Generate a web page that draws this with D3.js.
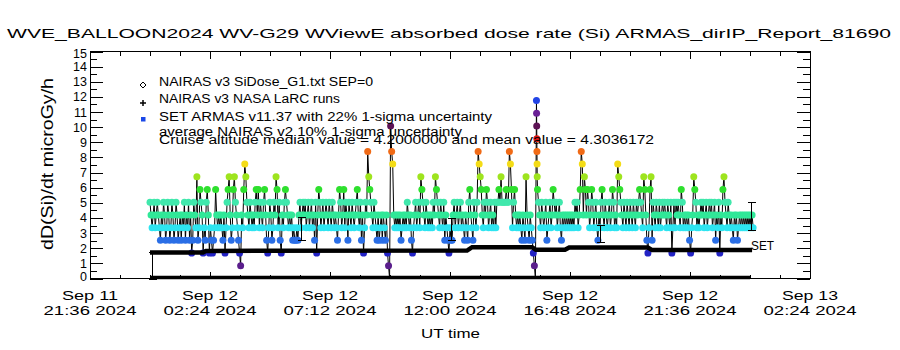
<!DOCTYPE html>
<html><head><meta charset="utf-8">
<script src="https://cdn.jsdelivr.net/npm/d3@7"></script>
<style>
body{margin:0;background:#fff}
svg{display:block}
text{font-family:"Liberation Sans",Arial,sans-serif;fill:#000}
</style>
</head><body>
<svg id="chart" width="900" height="350"></svg>
<script>
// ---------------- data ----------------
const titleText = "WVE_BALLOON2024 WV-G29 WViewE absorbed dose rate (Si) ARMAS_dirIP_Report_81690";
const yTitleText = "dD(Si)/dt microGy/h";
const xTitleText = "UT time";
const xTickTimes = ["2024-09-11T21:36:00Z","2024-09-12T02:24:00Z","2024-09-12T07:12:00Z","2024-09-12T12:00:00Z","2024-09-12T16:48:00Z","2024-09-12T21:36:00Z","2024-09-13T02:24:00Z"];
const xTickLine1 = ["Sep 11","Sep 12","Sep 12","Sep 12","Sep 12","Sep 12","Sep 13"];
const xTickLine2 = ["21:36 2024","02:24 2024","07:12 2024","12:00 2024","16:48 2024","21:36 2024","02:24 2024"];
const yTickValues = [0,1,2,3,4,5,6,7,8,9,10,11,12,13,14,15];
const legendLabels = ["NAIRAS v3 SiDose_G1.txt SEP=0","NAIRAS v3 NASA LaRC runs","SET ARMAS v11.37 with 22% 1-sigma uncertainty","average NAIRAS v2 10% 1-sigma uncertainty"];
const cruiseText = "Cruise altitude median value = 4.2000000 and mean value = 4.3036172";

// ARMAS SET dose rate, sampled every 2.5 minutes from 2024-09-12 00:00 UT
const armasStart = "2024-09-12T00:00:00Z";
const armasStepMinutes = 2.5;
const armasValues = [
5.04,4.2,3.36,4.2,5.04,3.36,4.2,5.04,4.2,3.36,
2.52,4.2,3.36,5.04,4.2,2.52,3.36,5.04,4.2,2.52,
3.36,5.04,4.2,2.52,3.36,5.04,4.2,2.52,3.36,4.2,
2.52,4.2,3.36,5.04,2.52,4.2,3.36,5.04,2.52,4.2,
1.68,2.52,5.04,4.2,3.36,6.72,2.52,3.36,5.88,5.04,
4.2,1.68,3.36,2.52,5.04,5.88,4.2,1.68,3.36,2.52,
1.68,2.52,3.36,5.88,4.2,3.36,4.2,3.36,4.2,3.36,
2.52,4.2,1.68,3.36,5.04,5.88,6.72,4.2,2.52,3.36,
5.88,6.72,5.04,4.2,3.36,2.52,1.68,0.84,4.2,3.36,
5.88,7.56,6.72,5.04,4.2,3.36,5.04,4.2,3.36,4.2,
3.36,5.04,5.88,4.2,5.88,3.36,5.04,4.2,3.36,5.04,
5.88,4.2,2.52,1.68,3.36,5.04,4.2,2.52,3.36,5.04,
4.2,6.72,5.88,3.36,5.04,2.52,1.68,4.2,3.36,5.04,
5.88,5.04,4.2,3.36,4.2,3.36,4.2,2.52,3.36,2.52,
2.52,3.36,2.52,4.2,5.04,3.36,4.2,5.04,4.2,5.04,
3.36,4.2,5.04,3.36,4.2,5.04,3.36,4.2,2.52,5.04,
1.68,4.2,5.88,5.04,3.36,4.2,5.04,3.36,4.2,5.04,
4.2,3.36,5.04,4.2,3.36,5.04,4.2,3.36,4.2,3.36,
2.52,4.2,5.88,5.04,3.36,4.2,5.88,3.36,5.04,4.2,
2.52,5.04,4.2,3.36,5.04,4.2,3.36,4.2,5.04,5.88,
4.2,3.36,5.04,2.52,4.2,1.68,3.36,5.04,4.2,8.4,
6.72,5.88,5.04,4.2,3.36,5.04,4.2,3.36,2.52,4.2,
2.52,3.36,4.2,2.52,4.2,3.36,2.52,4.2,1.68,0.84,
0,10.08,8.4,7.56,4.2,3.36,4.2,3.36,4.2,3.36,
4.2,2.52,3.36,4.2,3.36,4.2,3.36,5.04,4.2,3.36,
4.2,2.52,1.68,3.36,4.2,5.04,3.36,4.2,5.04,3.36,
6.72,5.88,5.04,4.2,3.36,5.04,4.2,3.36,4.2,3.36,
4.2,3.36,5.04,4.2,6.72,5.88,5.04,4.2,3.36,5.04,
4.2,3.36,5.04,2.52,4.2,3.36,2.52,1.68,3.36,2.52,
2.52,4.2,5.04,3.36,4.2,5.04,3.36,4.2,5.04,3.36,
4.2,3.36,2.52,4.2,3.36,2.52,5.04,5.88,4.2,3.36,
2.52,5.04,4.2,3.36,5.04,8.4,7.56,6.72,5.88,4.2,
3.36,5.04,4.2,5.88,5.04,3.36,4.2,5.04,3.36,4.2,
3.36,5.04,3.36,5.04,5.04,5.88,5.04,6.72,5.04,5.04,
5.04,5.04,5.88,5.04,5.04,8.4,7.56,5.88,3.36,5.04,
5.88,4.2,3.36,4.2,3.36,4.2,3.36,2.52,4.2,3.36,
2.52,6.72,4.2,3.36,2.52,4.2,3.36,2.52,1.68,0.84,
0,11.76,5.88,5.04,4.2,3.36,5.04,4.2,3.36,4.2,
5.04,2.52,3.36,4.2,5.04,3.36,4.2,5.88,5.04,4.2,
5.04,3.36,4.2,5.04,3.36,2.52,4.2,3.36,4.2,3.36,
4.2,3.36,4.2,3.36,4.2,3.36,4.2,3.36,5.04,4.2,
5.04,3.36,4.2,5.88,8.4,7.56,4.2,6.72,5.88,4.2,
5.88,5.04,3.36,4.2,5.88,5.04,3.36,4.2,5.04,3.36,
2.52,4.2,3.36,5.04,5.88,4.2,3.36,5.04,4.2,3.36,
4.2,5.04,3.36,4.2,5.88,5.04,3.36,4.2,3.36,7.56,
6.72,5.88,5.04,4.2,3.36,5.04,4.2,3.36,5.04,4.2,
3.36,5.04,4.2,3.36,5.04,4.2,3.36,5.04,4.2,5.04,
5.88,5.04,4.2,3.36,6.72,5.88,4.2,2.52,1.68,3.36,
5.88,6.72,2.52,5.04,4.2,3.36,5.04,4.2,3.36,5.04,
3.36,4.2,5.04,4.2,5.04,4.2,3.36,5.04,4.2,3.36,
5.04,1.68,3.36,5.04,3.36,5.04,4.2,5.04,4.2,3.36,
5.88,5.04,3.36,4.2,3.36,4.2,3.36,4.2,2.52,1.68,
3.36,4.2,6.72,5.88,5.04,3.36,4.2,3.36,4.2,5.04,
4.2,5.04,3.36,4.2,5.04,3.36,4.2,5.04,4.2,5.04,
3.36,4.2,5.04,2.52,4.2,3.36,5.04,1.68,4.2,3.36,
5.88,6.72,5.04,4.2,3.36,5.04,4.2,3.36,4.2,3.36,
2.52,4.2,3.36,4.2,2.52,3.36,4.2,3.36,4.2,3.36,
4.2,3.36,4.2,3.36,4.2,3.36,4.2,3.36,4.2,3.36
];
// extra burst samples during the big spike (minutes after armasStart)
const spikeMinutes = [927.8,928.1,928.4,928.7,929.0,929.3];
const spikeValues = [10.92,10.08,9.24,8.4,7.56,6.72];

// NAIRAS v3 NASA LaRC runs
const nairasTimes = ["2024-09-12T00:00:00Z","2024-09-12T02:07:00Z","2024-09-12T02:14:00Z","2024-09-12T12:41:00Z","2024-09-12T12:53:00Z","2024-09-12T15:17:00Z","2024-09-12T15:26:00Z","2024-09-12T16:36:00Z","2024-09-12T16:46:00Z","2024-09-12T19:55:00Z","2024-09-12T20:05:00Z","2024-09-13T00:05:00Z"];
const nairasValues = [1.72,1.72,1.82,1.85,2.07,2.07,1.9,1.9,2.05,2.05,1.88,1.88];

// NAIRAS v3 SiDose_G1 (SEP=0)
const g1Times = ["2024-09-12T00:00:00Z","2024-09-13T00:00:00Z"];
const g1Values = [0,0];

// uncertainty bars
const errTimes = ["2024-09-12T00:05:00Z","2024-09-12T06:02:00Z","2024-09-12T12:02:00Z","2024-09-12T18:00:00Z","2024-09-13T00:02:00Z"];
const errLow = [0,2.57,2.52,2.41,3.23];
const errHigh = [1.75,4.07,4.0,3.56,5.06];

// colour per quantised ARMAS level
const levelValues = [0.84,1.68,2.52,3.36,4.2,5.04,5.88,6.72,7.56,8.4,9.24,10.08,10.92,11.76];
const levelColors = ["#5a1e8c","#2222c4","#2a6ee6","#2ee4f0","#30e898","#40e8ac","#2ee02e","#9ee41e","#f4dc16","#f06a16","#dc1212","#5c1254","#6a2096","#2244e6"];

// ---------------- chart ----------------
const svg = d3.select("#chart");
const L = 90, R = 810, T = 51.5, B = 278.5;
const x = d3.scaleUtc().domain([new Date("2024-09-11T21:36:00Z"), new Date("2024-09-13T02:24:00Z")]).range([L, R]);
const y = d3.scaleLinear().domain([0, 15]).range([B, T]);

// title
svg.append("text").attr("x", 7).attr("y", 37.5).attr("font-size", 13.5)
  .attr("textLength", 884).attr("lengthAdjust", "spacingAndGlyphs").text(titleText);

// frame
svg.append("rect").attr("x", L).attr("y", T).attr("width", R - L).attr("height", B - T)
  .attr("fill", "none").attr("stroke", "#000").attr("stroke-width", 1).attr("shape-rendering", "crispEdges");

// x ticks
const t0 = x.domain()[0].getTime();
const minorX = d3.range(0, 25).map(k => new Date(t0 + k * 72 * 60000));
const majorX = xTickTimes.map(s => new Date(s));
const axG = svg.append("g").attr("shape-rendering", "crispEdges");
const noDomain = g => g.select(".domain").remove();
axG.append("g").attr("transform", `translate(0,${B})`).call(d3.axisBottom(x).tickValues(minorX).tickSize(-4).tickFormat("").tickSizeOuter(0)).call(noDomain);
axG.append("g").attr("transform", `translate(0,${B})`).call(d3.axisBottom(x).tickValues(majorX).tickSize(-7).tickFormat("").tickSizeOuter(0)).call(noDomain);
axG.append("g").attr("transform", `translate(0,${T})`).call(d3.axisTop(x).tickValues(minorX).tickSize(-4).tickFormat("").tickSizeOuter(0)).call(noDomain);
axG.append("g").attr("transform", `translate(0,${T})`).call(d3.axisTop(x).tickValues(majorX).tickSize(-7).tickFormat("").tickSizeOuter(0)).call(noDomain);

// y ticks
const minorY = d3.range(0, 31).map(k => k * 0.5);
axG.append("g").attr("transform", `translate(${L},0)`).call(d3.axisLeft(y).tickValues(minorY).tickSize(-7).tickFormat("").tickSizeOuter(0)).call(noDomain);
axG.append("g").attr("transform", `translate(${L},0)`).call(d3.axisLeft(y).tickValues(yTickValues).tickSize(-13).tickFormat("").tickSizeOuter(0)).call(noDomain);
axG.append("g").attr("transform", `translate(${R},0)`).call(d3.axisRight(y).tickValues(minorY).tickSize(-7).tickFormat("").tickSizeOuter(0)).call(noDomain);
axG.append("g").attr("transform", `translate(${R},0)`).call(d3.axisRight(y).tickValues(yTickValues).tickSize(-13).tickFormat("").tickSizeOuter(0)).call(noDomain);
svg.selectAll(".tick line").attr("stroke", "#000");

// y labels
svg.append("g").selectAll("text").data(yTickValues).join("text")
  .attr("x", 87).attr("text-anchor", "end").attr("font-size", 12.5)
  .attr("y", d => y(d) + 4.5 + (d === 0 ? -2.5 : d === 15 ? 2 : 0))
  .text(d => d);

// x labels
const xl = svg.append("g");
majorX.forEach((d, i) => {
  xl.append("text").attr("x", x(d)).attr("y", 299.5).attr("text-anchor", "middle").attr("font-size", 13.5)
    .attr("textLength", 56).attr("lengthAdjust", "spacingAndGlyphs").text(xTickLine1[i]);
  xl.append("text").attr("x", x(d)).attr("y", 315).attr("text-anchor", "middle").attr("font-size", 13.5)
    .attr("textLength", 93).attr("lengthAdjust", "spacingAndGlyphs").text(xTickLine2[i]);
});
svg.append("text").attr("x", 421).attr("y", 338).attr("font-size", 13.5)
  .attr("textLength", 59).attr("lengthAdjust", "spacingAndGlyphs").text(xTitleText);

// y title
svg.append("text").attr("transform", "translate(53,164) rotate(-90)").attr("text-anchor", "middle")
  .attr("font-size", 16.5).attr("textLength", 172).attr("lengthAdjust", "spacingAndGlyphs").text(yTitleText);

// ---- data marks ----
const plot = svg.append("g");
const st = new Date(armasStart).getTime();
let armas = armasValues.map((v, i) => ({ t: new Date(st + i * armasStepMinutes * 60000), v }));
spikeMinutes.forEach((m, i) => armas.push({ t: new Date(st + m * 60000), v: spikeValues[i] }));
armas.sort((a, b) => a.t - b.t);

// G1 zero line
plot.append("path").datum(g1Times.map((t, i) => ({ t: new Date(t), v: g1Values[i] })))
  .attr("fill", "none").attr("stroke", "#000").attr("stroke-width", 3.5)
  .attr("d", d3.line().x(d => x(d.t)).y(d => y(d.v) - 1));

// ARMAS line
plot.append("path").datum(armas).attr("fill", "none").attr("stroke", "#000").attr("stroke-width", 1)
  .attr("d", d3.line().x(d => x(d.t)).y(d => y(d.v)));

// ARMAS dots
plot.append("g").selectAll("circle").data(armas.filter(d => d.v > 0)).join("circle")
  .attr("cx", d => x(d.t)).attr("cy", d => y(d.v)).attr("r", 3.5)
  .attr("fill", d => levelColors[levelValues.indexOf(d.v)]);

// NAIRAS LaRC line
plot.append("path").datum(nairasTimes.map((t, i) => ({ t: new Date(t), v: nairasValues[i] })))
  .attr("fill", "none").attr("stroke", "#000").attr("stroke-width", 4.5)
  .attr("d", d3.line().x(d => x(d.t)).y(d => y(d.v)));

// error bars
const eb = plot.append("g").attr("stroke", "#000").attr("stroke-width", 1).attr("shape-rendering", "crispEdges");
errTimes.forEach((t, i) => {
  const cx = Math.round(x(new Date(t))) + 0.5;
  const yh = Math.round(y(errHigh[i])) + 0.5, yl = Math.round(y(errLow[i])) + 0.5;
  eb.append("line").attr("x1", cx).attr("x2", cx).attr("y1", yl).attr("y2", yh);
  eb.append("line").attr("x1", cx - 4).attr("x2", cx + 4).attr("y1", yh).attr("y2", yh);
  eb.append("line").attr("x1", cx - 4).attr("x2", cx + 4).attr("y1", yl).attr("y2", yl);
});

// SET label
svg.append("text").attr("x", 751).attr("y", 250).attr("font-size", 13.5)
  .attr("textLength", 23).attr("lengthAdjust", "spacingAndGlyphs").text("SET");

// legend
const lg = svg.append("g");
lg.append("path").attr("d", "M143,82 L146,85 L143,88 L140,85 Z").attr("fill", "none").attr("stroke", "#000").attr("stroke-width", 1);
lg.append("path").attr("d", "M140,103 H146 M143,100 V106").attr("stroke", "#000").attr("stroke-width", 1.5);
lg.append("rect").attr("x", 141).attr("y", 117).attr("width", 4.5).attr("height", 4.5).attr("fill", "#1a48e8");
const legendY = [86, 103.3, 121, 135.5];
const legendW = [214, 181, 333, 303];
legendLabels.forEach((s, i) => {
  lg.append("text").attr("x", 159).attr("y", legendY[i]).attr("font-size", 12.5)
    .attr("textLength", legendW[i]).attr("lengthAdjust", "spacingAndGlyphs").text(s);
});
lg.append("text").attr("x", 159).attr("y", 143.5).attr("font-size", 12.5)
  .attr("textLength", 495).attr("lengthAdjust", "spacingAndGlyphs").text(cruiseText);
</script>
</body></html>
